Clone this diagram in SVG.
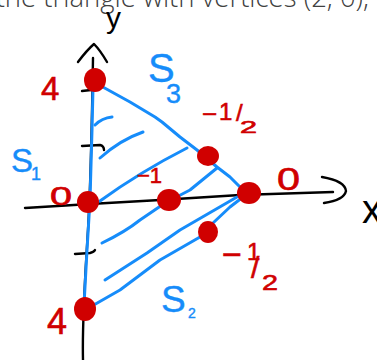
<svg xmlns="http://www.w3.org/2000/svg" width="377" height="360" viewBox="0 0 377 360">
<style>
.bk{fill:none;stroke:#000;stroke-width:2.4;stroke-linecap:round;stroke-linejoin:round}
.bl{fill:none;stroke:#168cfa;stroke-width:3;stroke-linecap:round;stroke-linejoin:round}
.dot{fill:#d00000}
.red{fill:#d00000;stroke:#d00000;stroke-width:0.6;font-family:"Liberation Sans",Arial,sans-serif}
.blue{fill:#168cfa;stroke:#168cfa;stroke-width:0.4;font-family:"Liberation Sans",Arial,sans-serif}
.blk{fill:#000;font-family:"Liberation Sans",Arial,sans-serif}
.top{fill:#404040;font-family:"Open Sans","Liberation Sans",sans-serif;font-weight:300}
</style>
<rect width="377" height="360" fill="#fff"/>
<text class="top" x="369" y="7" font-size="27.5" text-anchor="end">the triangle with vertices (2, 0),</text>
<g id="axes">
<path class="bk" d="M78,62 Q87,50 94,44 Q100,50 107,62"/>
<path class="bk" d="M93,58 C92,120 91,180 88,230 S82,320 83,360"/>
<path class="bk" d="M82,91 L91,90"/>
<path class="bk" d="M82,146 L100,145 Q104,146 104,150"/>
<path class="bk" d="M75,254 L90,253 Q94,252 95,250"/>
<path class="bk" d="M25,208 L90,204 L160,200 L240,195 L333,192"/>
<path class="bk" d="M322,177 Q345,181 346,191 Q344,200 324,203"/>
</g>
<g id="triangle">
<path class="bl" d="M93,88 L92,130 L90,200 L87,250 L84,305"/>
<path class="bl" d="M101,86 L130,102 L155,117 L162,122 L180,137 L197,150 L217,167 L230,177 L240,187 L244,193"/>
<path class="bl" d="M243,197 L230,207 L213,223 L200,237 L160,260 L120,290 L92,306"/>
</g>
<g id="hatching">
<path class="bl" d="M95,125 Q102,118 112,117"/>
<path class="bl" d="M100,158 Q120,140 143,132"/>
<path class="bl" d="M100,201 Q140,172 187,148"/>
<path class="bl" d="M102,243 Q125,232 140,220 L165,203 L190,190 L217,168"/>
<path class="bl" d="M105,280 L147,253 L180,230 L237,197"/>
</g>
<g id="points">
<ellipse class="dot" cx="95" cy="80" rx="11" ry="12"/>
<ellipse class="dot" cx="88" cy="202" rx="11" ry="11"/>
<ellipse class="dot" cx="169" cy="200" rx="12" ry="11"/>
<ellipse class="dot" cx="249" cy="193" rx="12" ry="11"/>
<ellipse class="dot" cx="208" cy="156" rx="11" ry="10"/>
<ellipse class="dot" cx="208" cy="232" rx="10" ry="11"/>
<ellipse class="dot" cx="85" cy="309" rx="11" ry="12"/>
</g>
<g id="labels">
<text class="blk" x="106" y="28" font-size="30">y</text>
<text class="blk" x="362" y="223" font-size="40">x</text>
<text class="red" x="41" y="100" font-size="33">4</text>
<text class="red" x="47" y="334" font-size="36">4</text>
<text class="red" x="50" y="205" font-size="25" textLength="22" lengthAdjust="spacingAndGlyphs">0</text>
<text class="red" x="277" y="190" font-size="31" textLength="23" lengthAdjust="spacingAndGlyphs">0</text>
<text class="red" x="137" y="183" font-size="22">−1</text>
<text class="red" font-size="26"><tspan x="202" y="123">−</tspan><tspan x="219" y="120" font-size="24">1</tspan><tspan x="236" y="121" font-size="24">/</tspan><tspan x="240" y="133" font-size="16" textLength="17" lengthAdjust="spacingAndGlyphs">2</tspan></text>
<text class="red" font-size="34"><tspan x="222" y="266">−</tspan><tspan x="247" y="260" font-size="24">1</tspan><tspan x="251" y="278" font-size="30">/</tspan><tspan x="262" y="290" font-size="22" textLength="16" lengthAdjust="spacingAndGlyphs">2</tspan></text>
<text class="blue" font-size="40"><tspan x="148" y="82">S</tspan><tspan x="166" y="103" font-size="27">3</tspan></text>
<text class="blue" font-size="33"><tspan x="11" y="172">S</tspan><tspan x="31" y="180" font-size="18">1</tspan></text>
<text class="blue" font-size="37"><tspan x="161" y="312">S</tspan><tspan x="188" y="318" font-size="14">2</tspan></text>
</g>
</svg>
